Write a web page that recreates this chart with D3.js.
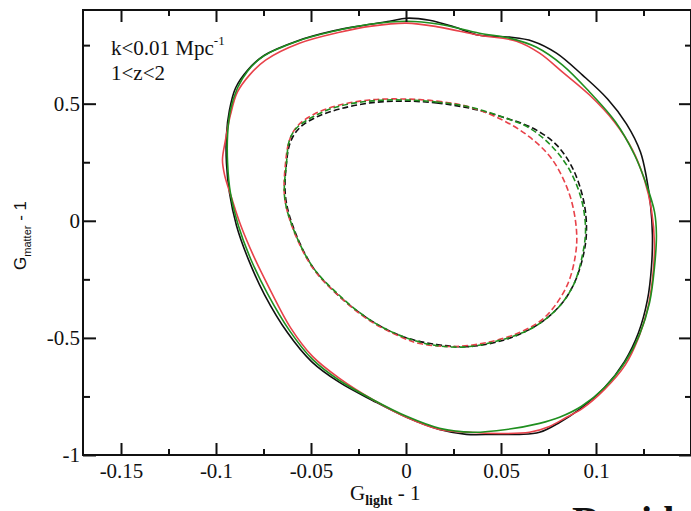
<!DOCTYPE html>
<html><head><meta charset="utf-8">
<script src="https://cdn.jsdelivr.net/npm/d3@7"></script>
<style>body{margin:0;background:#fff}svg{display:block}</style>
</head><body>
<script>
// ---- data (G_light - 1, G_matter - 1) ----
const outerBlackX=[0.0003,0.0124,0.0255,0.0387,0.0545,0.0666,0.0792,0.0929,0.1061,0.1161,0.1234,0.1266,0.1287,0.1297,0.1292,0.1271,0.1224,0.115,0.1045,0.0913,0.0808,0.0703,0.0597,0.0466,0.0318,0.0176,0.0003,-0.0176,-0.035,-0.0497,-0.0624,-0.0745,-0.0829,-0.0892,-0.0929,-0.0945,-0.0945,-0.0929,-0.0897,-0.0834,-0.0745,-0.0576,-0.0387,-0.0218,-0.0087];
const outerBlackY=[0.865,0.856,0.827,0.792,0.784,0.767,0.716,0.622,0.520,0.413,0.294,0.183,0.068,-0.060,-0.196,-0.337,-0.477,-0.601,-0.712,-0.805,-0.861,-0.903,-0.912,-0.912,-0.912,-0.891,-0.839,-0.767,-0.690,-0.601,-0.477,-0.315,-0.166,-0.021,0.119,0.247,0.366,0.473,0.567,0.643,0.707,0.767,0.810,0.835,0.852];
const outerRedX=[0.0003,0.0176,0.0387,0.0582,0.0703,0.0824,0.0966,0.1097,0.1192,0.1255,0.1292,0.1308,0.1297,0.1271,0.1224,0.1155,0.1045,0.0929,0.0845,0.0755,0.065,0.0492,0.0334,0.0176,0.0003,-0.0176,-0.035,-0.0492,-0.0608,-0.0713,-0.0803,-0.0871,-0.0918,-0.0955,-0.0966,-0.095,-0.0924,-0.0887,-0.0824,-0.0739,-0.0561,-0.035,-0.0182];
const outerRedY=[0.844,0.827,0.792,0.767,0.716,0.635,0.537,0.422,0.303,0.175,0.047,-0.102,-0.251,-0.379,-0.499,-0.614,-0.720,-0.801,-0.839,-0.878,-0.903,-0.908,-0.903,-0.891,-0.839,-0.763,-0.673,-0.579,-0.456,-0.298,-0.149,-0.017,0.098,0.196,0.260,0.345,0.452,0.550,0.622,0.686,0.758,0.805,0.831];
const outerGreenX=[0.0003,0.0176,0.0387,0.0545,0.0687,0.0824,0.0966,0.1103,0.1203,0.1266,0.1308,0.1318,0.1308,0.1282,0.1229,0.1155,0.1045,0.0924,0.0808,0.0703,0.0529,0.035,0.0176,0.0003,-0.0176,-0.035,-0.0492,-0.0613,-0.0729,-0.0818,-0.0882,-0.0924,-0.0939,-0.0939,-0.0924,-0.0887,-0.0834,-0.0750,-0.0571,-0.0376,-0.0192];
const outerGreenY=[0.852,0.839,0.801,0.780,0.741,0.665,0.550,0.422,0.281,0.153,0.038,-0.060,-0.196,-0.349,-0.486,-0.601,-0.712,-0.792,-0.839,-0.865,-0.891,-0.903,-0.886,-0.835,-0.763,-0.682,-0.592,-0.469,-0.311,-0.162,-0.021,0.119,0.247,0.366,0.473,0.567,0.639,0.703,0.767,0.810,0.839];
const innerBlackX=[-0.0018,0.0161,0.0334,0.0508,0.0666,0.0792,0.0876,0.0934,0.095,0.0934,0.0887,0.0824,0.0745,0.065,0.0508,0.0334,0.0161,-0.0018,-0.0192,-0.0366,-0.0492,-0.0592,-0.0634,-0.0629,-0.0608,-0.0561,-0.0471,-0.035,-0.0192];
const innerBlackY=[0.511,0.503,0.481,0.443,0.396,0.324,0.226,0.089,-0.038,-0.145,-0.264,-0.349,-0.413,-0.464,-0.511,-0.537,-0.528,-0.494,-0.422,-0.311,-0.196,-0.030,0.102,0.247,0.337,0.396,0.443,0.477,0.503];
const innerRedX=[-0.0018,0.0161,0.0334,0.0508,0.065,0.0771,0.0861,0.0897,0.0892,0.0845,0.0729,0.0597,0.0424,0.0245,0.0071,-0.0018,-0.0192,-0.0366,-0.0492,-0.0597,-0.0639,-0.0634,-0.0613,-0.0571,-0.0482,-0.035,-0.0192];
const innerRedY=[0.520,0.511,0.486,0.430,0.358,0.260,0.111,-0.038,-0.145,-0.281,-0.413,-0.477,-0.520,-0.537,-0.524,-0.499,-0.426,-0.311,-0.200,-0.030,0.102,0.247,0.345,0.405,0.456,0.494,0.516];
const innerGreenX=[-0.0018,0.0161,0.0334,0.0508,0.065,0.0771,0.0861,0.0924,0.0945,0.0929,0.0887,0.0824,0.0745,0.065,0.0508,0.0334,0.0161,-0.0018,-0.0192,-0.0366,-0.0492,-0.0597,-0.0639,-0.0629,-0.0613,-0.0576,-0.0492,-0.0366,-0.0192];
const innerGreenY=[0.516,0.507,0.486,0.443,0.396,0.315,0.217,0.089,-0.038,-0.145,-0.264,-0.349,-0.413,-0.464,-0.507,-0.537,-0.533,-0.494,-0.422,-0.307,-0.196,-0.026,0.102,0.247,0.345,0.396,0.443,0.486,0.511];

const xMajor=[-0.15,-0.1,-0.05,0,0.05,0.1,0.15];
const xMajorLabels=["-0.15","-0.1","-0.05","0","0.05","0.1",""];
const xMinor=[-0.125,-0.075,-0.025,0.025,0.075,0.125];
const yMajor=[-1,-0.5,0,0.5];
const yMajorLabels=["-1","-0.5","0","0.5"];
const yMinor=[-0.75,-0.25,0.25,0.75];

const W=691,H=511;
const svg=d3.select("body").append("svg").attr("width",W).attr("height",H);
const x=d3.scaleLinear().domain([-0.17,0.15]).range([83,691]);
const y=d3.scaleLinear().domain([-1,0.9]).range([455,10]);

const serif="'Liberation Serif','Times New Roman',serif";
svg.append("clipPath").attr("id","c").append("rect").attr("x",83).attr("y",10).attr("width",608).attr("height",445);

const line=d3.line().x(d=>x(d[0])).y(d=>y(d[1])).curve(d3.curveCatmullRomClosed.alpha(0.5));
const zipXY=(a,b)=>a.map((v,i)=>[v,b[i]]);
const curves=[
 {xs:innerBlackX,ys:innerBlackY,c:"#111",dash:"6,3"},
 {xs:innerRedX,ys:innerRedY,c:"#e8424a",dash:"6,3"},
 {xs:innerGreenX,ys:innerGreenY,c:"#1f8f1f",dash:"6,3"},
 {xs:outerBlackX,ys:outerBlackY,c:"#111",dash:null},
 {xs:outerRedX,ys:outerRedY,c:"#e8424a",dash:null},
 {xs:outerGreenX,ys:outerGreenY,c:"#1f8f1f",dash:null}
];
const cg=svg.append("g").attr("clip-path","url(#c)");
curves.forEach(k=>{
 cg.append("path").attr("d",line(zipXY(k.xs,k.ys))).attr("fill","none")
  .attr("stroke",k.c).attr("stroke-width",1.6).attr("stroke-dasharray",k.dash);
});

// axes
function styleAxis(g){g.select(".domain").remove();g.selectAll("line").attr("stroke","#111").attr("stroke-width",2);
 g.selectAll("text").attr("font-family",serif).attr("font-size",21).attr("fill","#111");}
const fmtX=v=>xMajorLabels[xMajor.indexOf(v)];
const fmtY=v=>yMajorLabels[yMajor.indexOf(v)];
svg.append("g").attr("transform","translate(0,455)").call(d3.axisBottom(x).tickValues(xMajor).tickSize(-12).tickPadding(8).tickFormat(fmtX)).call(styleAxis);
svg.append("g").attr("transform","translate(0,455)").call(d3.axisBottom(x).tickValues(xMinor).tickSize(-6).tickFormat("")).call(styleAxis);
svg.append("g").attr("transform","translate(0,10)").call(d3.axisTop(x).tickValues(xMajor).tickSize(-12).tickFormat("")).call(styleAxis);
svg.append("g").attr("transform","translate(0,10)").call(d3.axisTop(x).tickValues(xMinor).tickSize(-6).tickFormat("")).call(styleAxis);
svg.append("g").attr("transform","translate(83,0)").call(d3.axisLeft(y).tickValues(yMajor).tickSize(-13).tickPadding(3).tickFormat(fmtY)).call(styleAxis);
svg.append("g").attr("transform","translate(83,0)").call(d3.axisLeft(y).tickValues(yMinor).tickSize(-7).tickFormat("")).call(styleAxis);
svg.append("g").attr("transform","translate(691,0)").call(d3.axisRight(y).tickValues(yMajor).tickSize(-12).tickFormat("")).call(styleAxis);
svg.append("g").attr("transform","translate(691,0)").call(d3.axisRight(y).tickValues(yMinor).tickSize(-6).tickFormat("")).call(styleAxis);
svg.append("rect").attr("x",83).attr("y",10).attr("width",608).attr("height",445).attr("fill","none").attr("stroke","#111").attr("stroke-width",2);

// annotation
const t1=svg.append("text").attr("x",111).attr("y",55).attr("font-family",serif).attr("font-size",21).attr("fill","#111");
t1.append("tspan").text("k<0.01 Mpc");
t1.append("tspan").attr("font-size",13).attr("dy",-10).text("-1");
svg.append("text").attr("x",111).attr("y",80).attr("font-family",serif).attr("font-size",21).attr("fill","#111").text("1<z<2");

// axis titles
const xt=svg.append("text").attr("x",350).attr("y",500).attr("font-family",serif).attr("font-size",21).attr("fill","#111");
xt.append("tspan").text("G");
xt.append("tspan").attr("font-size",14).attr("font-weight","bold").attr("dy",5).text("light");
xt.append("tspan").attr("dy",-5).text(" - 1");
const yt=svg.append("text").attr("transform","translate(26,270) rotate(-90)").attr("font-family","'Liberation Sans',Arial,sans-serif").attr("font-size",17).attr("fill","#111");
yt.append("tspan").text("G");
yt.append("tspan").attr("font-size",11).attr("dy",5).text("matter");
yt.append("tspan").attr("dy",-5).text(" - 1");

// cut-off caption text at bottom right
svg.append("text").attr("x",572).attr("y",534).attr("font-family",serif).attr("font-size",40).attr("font-weight","bold").attr("fill","#111").text("David");
</script>
</body></html>
